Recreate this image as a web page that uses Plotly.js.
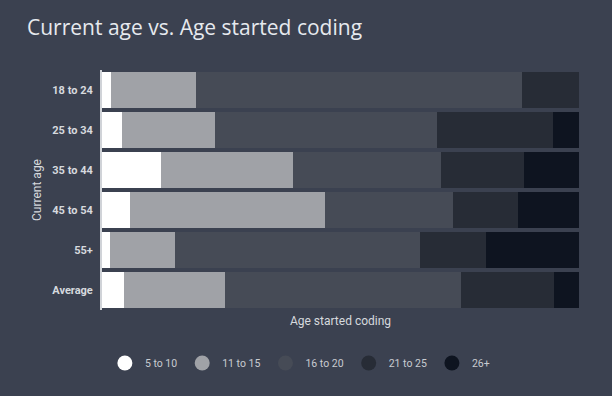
<!DOCTYPE html>
<html>
<head>
<meta charset="utf-8">
<script src="https://cdn.plot.ly/plotly-3.0.1.min.js"></script>
<style>html,body{margin:0;padding:0;background:#3b4150;}#chart{width:612px;height:396px;}</style>
</head>
<body>
<div id="chart"></div>
<script>
var categories = ["18 to 24", "25 to 34", "35 to 44", "45 to 54", "55+", "Average"];
var seriesNames = ["5 to 10", "11 to 15", "16 to 20", "21 to 25", "26+"];
var s5to10  = [1.8, 4.1, 12.3, 5.9, 1.6, 4.7];
var s11to15 = [17.9, 19.5, 27.7, 40.9, 13.8, 21.0];
var s16to20 = [68.4, 46.6, 31.1, 26.7, 51.3, 49.5];
var s21to25 = [11.9, 24.4, 17.4, 13.8, 13.7, 19.6];
var s26plus = [0.0, 5.4, 11.5, 12.7, 19.6, 5.2];
var colors = ["#ffffff", "#a0a2a7", "#464b56", "#272c36", "#0e1420"];

var values = [s5to10, s11to15, s16to20, s21to25, s26plus];
var traces = [];
values.forEach(function (v, i) {
  traces.push({
    type: "bar", orientation: "h", x: v, y: categories, name: seriesNames[i],
    marker: {color: colors[i], line: {width: 0}},
    showlegend: false, hoverinfo: "x+name"
  });
});
values.forEach(function (v, i) {
  traces.push({
    type: "scatter", mode: "markers", x: [null], y: [null], name: seriesNames[i],
    marker: {color: colors[i], size: 15, symbol: "circle"},
    showlegend: true, hoverinfo: "skip"
  });
});

var layout = {
  width: 612, height: 396,
  paper_bgcolor: "#3b4150", plot_bgcolor: "#3b4150",
  barmode: "stack", bargap: 0.1,
  margin: {l: 102, r: 33, t: 70, b: 86},
  font: {family: "Roboto, sans-serif", color: "#d6d9de"},
  title: {
    text: "Current age vs. Age started coding",
    font: {family: "Open Sans, sans-serif", size: 21, color: "#e6e9ee"},
    x: 27 / 612, xref: "container", xanchor: "left",
    y: 1 - 28 / 396, yref: "container", yanchor: "middle"
  },
  xaxis: {
    range: [0, 100], showticklabels: false, showgrid: false, zeroline: false,
    ticks: "", fixedrange: true,
    title: {text: "Age started coding", font: {size: 12, color: "#d6d9de"}, standoff: 6}
  },
  yaxis: {
    type: "category", autorange: "reversed", showgrid: false, zeroline: false,
    showline: true, linecolor: "#d0d3d8", linewidth: 2,
    ticks: "", ticklabelstandoff: 5,
    tickfont: {family: "Roboto, sans-serif", size: 11, color: "#d6d9de", weight: "bold"},
    title: {text: "Current age", font: {size: 12, color: "#d6d9de"}, standoff: 8}
  },
  legend: {
    orientation: "h", traceorder: "normal", xref: "container", x: 0.49, xanchor: "center",
    yref: "container", y: 1 - 363 / 396, yanchor: "middle",
    font: {family: "Roboto, sans-serif", size: 10.5, color: "#c8cbd0"},
    itemclick: false, itemdoubleclick: false
  },
  showlegend: true
};

Plotly.newPlot("chart", traces, layout, {displayModeBar: false, staticPlot: true});
</script>
</body>
</html>
